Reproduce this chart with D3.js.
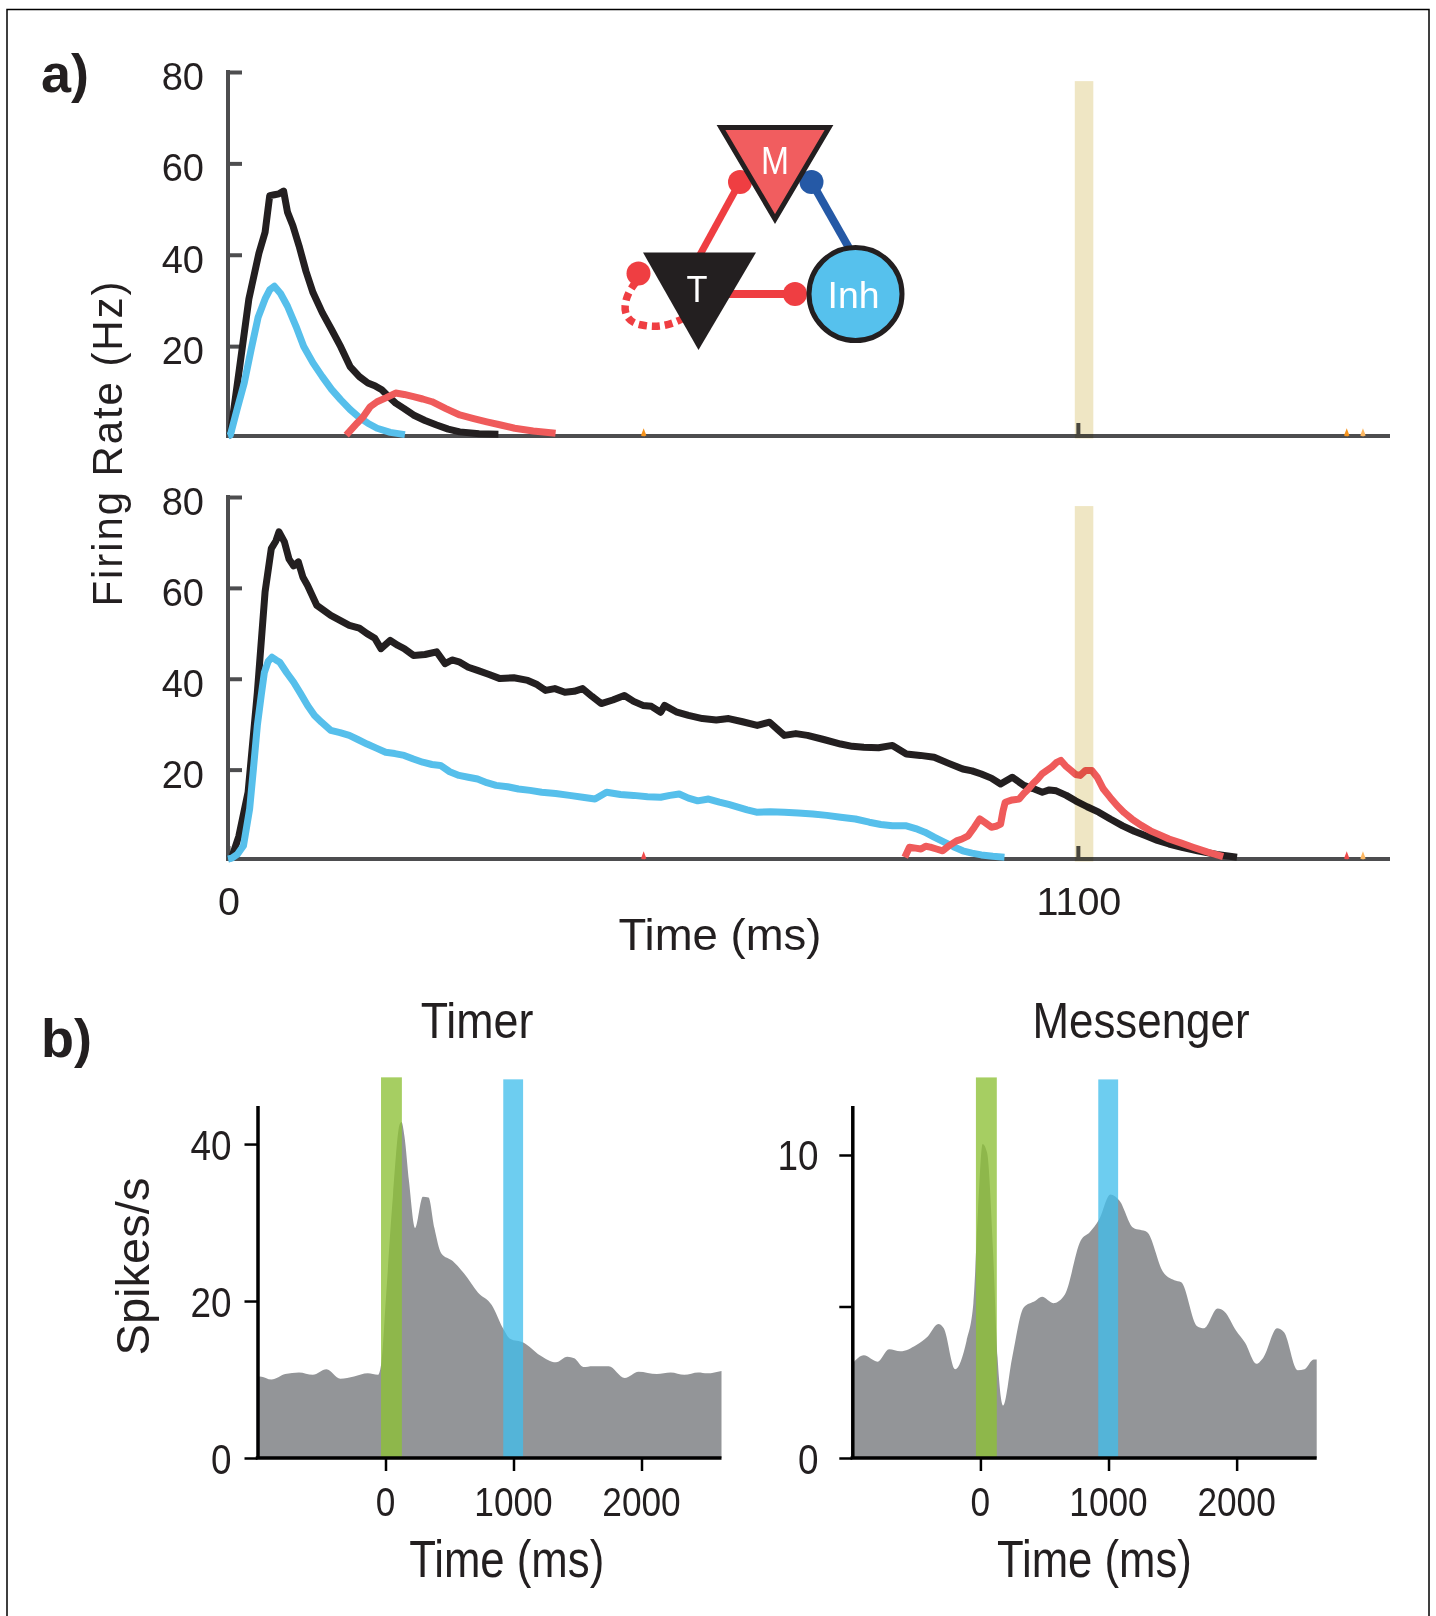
<!DOCTYPE html>
<html><head><meta charset="utf-8">
<script src="https://cdn.jsdelivr.net/npm/d3@7"></script>
<style>body{margin:0;background:#fff}svg{display:block}</style>
</head><body>
<svg id="c" width="1436" height="1616"></svg>
<script>
// ---------------- DATA ----------------
// Panel a, top (short trial): [time ms, rate Hz]
const topBlack = [[0,0],[3,0.3],[15,15],[27,30],[40,40],[48,44.6],[54,52.6],[60,52.8],[66,53],[72,53.6],[77,49],[84,46],[92,41.6],[101,36],[110,31.4],[122,27],[134,23.3],[146,19.5],[158,15.2],[170,13],[181,11.6],[190,11],[199,10.1],[208,8.6],[217,7.2],[228,6],[240,4.6],[255,3.4],[270,2.4],[285,1.5],[300,0.9],[325,0.5],[350,0.4]];
const topCyan = [[0,0],[3,0.2],[12,6],[21,11.6],[30,19],[39,26],[48,30],[54,32],[60,32.8],[68,31.2],[77,28.4],[88,24],[98,19.6],[110,16],[122,13],[134,10.2],[146,7.9],[158,5.8],[169,4.2],[181,2.8],[193,1.7],[210,0.8],[229,0.3]];
const topRed = [[153,0.2],[160,1.5],[167,2.8],[175,4.2],[184,6.4],[193,7.5],[205,8.4],[217,9.4],[228,9.1],[240,8.6],[252,8.1],[264,7.5],[282,6],[300,4.6],[318,3.8],[335,3.1],[353,2.4],[371,1.7],[395,1.1],[424,0.6]];
// Panel a, bottom (long trial)
const botBlack = [[0,0],[5,0.4],[14,5],[26,14.7],[38,36.7],[48,58.8],[56,68.3],[62,70],[66,72],[73,69.8],[79,66],[85,64.5],[91,65.4],[97,62],[103,60.2],[115,55.8],[133,53.6],[145,52.5],[157,51.4],[170,50.8],[180,49.6],[190,48.6],[198,46.3],[210,48.1],[220,47],[228,46.3],[240,44.8],[255,45],[270,45.6],[281,43],[290,43.8],[299,43.4],[311,42.2],[323,41.5],[338,40.6],[352,39.7],[370,39.9],[388,39.3],[400,38.4],[411,37.1],[423,37.5],[436,36.7],[448,36.9],[459,37.5],[471,35.8],[483,34.2],[498,35],[513,36],[525,34.7],[537,33.8],[548,33.6],[560,32.3],[565,33.8],[580,32.4],[596,31.6],[614,30.9],[632,30.6],[648,30.9],[666,30.2],[685,29.4],[701,30.1],[712,28.4],[720,27.2],[735,27.6],[750,27.2],[771,26.3],[793,25.3],[808,24.8],[823,24.6],[842,24.5],[860,25],[878,23.1],[896,22.8],[914,22.4],[932,21.1],[951,19.8],[963,19.4],[975,18.7],[988,17.8],[1000,16.5],[1015,18],[1030,16.2],[1042,15.5],[1054,14.7],[1063,15.2],[1072,15],[1085,14],[1097,12.8],[1112,11.5],[1127,10.3],[1142,8.8],[1158,7.3],[1173,6.1],[1188,5.1],[1203,4.1],[1218,3.3],[1236,2.5],[1255,1.8],[1280,1],[1306,0.4]];
const botCyan = [[0,0],[5,0.2],[12,1],[20,2.9],[28,11],[33,20],[38,29.4],[43,36],[47,41],[52,43.5],[57,44.4],[62,43.8],[67,43.3],[76,41],[85,38.9],[94,36.4],[103,33.8],[112,31.6],[121,30.1],[133,28.3],[145,27.8],[157,27.2],[168,26.3],[180,25.3],[192,24.4],[204,23.5],[216,23.2],[228,22.8],[240,22],[252,21.3],[264,20.8],[275,20.6],[287,19.2],[299,18.4],[311,18],[323,17.6],[335,16.8],[347,16.2],[362,15.9],[376,15.4],[391,15.1],[406,14.7],[424,14.4],[442,14],[459,13.6],[475,13.2],[490,14.7],[508,14.2],[525,14],[543,13.7],[560,13.6],[572,14],[584,14.3],[596,13.4],[608,12.8],[622,13.2],[636,12.5],[648,12],[660,11.4],[672,10.8],[684,10.3],[702,10.4],[720,10.3],[738,10.1],[757,9.9],[775,9.6],[793,9.2],[812,8.8],[830,8.1],[845,7.6],[860,7.3],[878,7.3],[890,6.7],[902,5.9],[914,4.8],[927,3.7],[939,2.7],[951,1.8],[963,1.3],[975,0.9],[990,0.6],[1005,0.4]];
const botRed = [[876,0.4],[882,2.6],[890,2.4],[897,2.2],[903,2.8],[909,2.6],[917,2.2],[925,1.8],[934,3],[943,4],[950,4.4],[958,5.1],[966,7],[973,8.8],[980,8],[988,7],[994,7.2],[1000,7.7],[1003,10.5],[1006,12.5],[1015,13],[1024,13.2],[1030,14.4],[1036,15.4],[1042,16.6],[1048,17.6],[1054,18.8],[1060,19.5],[1066,20.2],[1072,21.2],[1078,21.7],[1084,20.5],[1091,19.5],[1097,18.6],[1103,18.4],[1110,19.5],[1118,19.5],[1125,18],[1133,15.4],[1142,13.5],[1151,11.7],[1160,10.2],[1170,8.8],[1182,7.4],[1194,6.2],[1206,5.3],[1218,4.4],[1234,3.5],[1249,2.6],[1268,1.5],[1288,0.5]];
// tiny traces of other populations near zero: [time, colour]
const topBlips = [[538,'#F7941D'],[1448,'#F7941D'],[1469,'#FDB863']];
const botBlips = [[538,'#EF4B4B'],[1448,'#EF4B4B'],[1469,'#FDB863']];
const cueWindow = [1096,1120,78];           // tan shading: t0, t1, top (Hz)
const aYTicks = [20,40,60,80];
const aXTicks = [0,1100];
const aXTickLabels = ['0','1100'];

// Panel b: PSTHs [time ms, spikes/s]
const timerRate = [[-1000,10.4],[-980,10.4],[-891,10],[-783,10.7],[-676,10.9],[-568,10.6],[-461,11.3],[-353,10.1],[-246,10.4],[-138,10.8],[-59,10.6],[-31,12.3],[5,20.8],[59,33.6],[112,42.6],[125,42.8],[148,41],[184,35.2],[231,29.3],[292,33.3],[336,33.2],[382,29.3],[435,26.1],[525,25.1],[614,23.5],[722,21.1],[830,19.5],[919,16.5],[973,15.2],[1080,14.7],[1206,13.1],[1332,12.2],[1421,12.9],[1475,12.7],[1546,11.6],[1618,11.7],[1744,11.7],[1869,10.2],[1977,11],[2120,10.7],[2228,10.9],[2335,10.6],[2443,10.9],[2514,10.8],[2625,11.1]];
const messengerRate = [[-1000,3.11],[-910,3.39],[-803,3.18],[-713,3.59],[-625,3.52],[-500,3.73],[-411,4.01],[-329,4.42],[-286,4.28],[-197,2.93],[-108,3.87],[-55,5.11],[-19,8.15],[17,10.36],[52,10.08],[99,6.77],[134,3.32],[177,1.73],[248,3.32],[338,4.97],[427,5.18],[481,5.32],[569,5.11],[658,5.39],[783,7.18],[855,7.46],[926,7.87],[1015,8.7],[1086,8.49],[1193,7.6],[1300,7.46],[1425,6.15],[1514,5.87],[1568,5.8],[1692,4.35],[1746,4.28],[1852,4.93],[1906,4.83],[1995,4.21],[2066,3.8],[2155,3.11],[2209,3.32],[2316,4.28],[2370,4.15],[2476,2.9],[2530,2.93],[2601,3.25],[2625,3.25]];
const startCue = [-35,128];   // green shading (ms)
const endCue = [920,1075];    // blue shading (ms)
const bXTicks = [0,1000,2000];
const timerYTicks = [0,20,40];
const timerYLabels = ['0','20','40'];
const messengerYTicks = [0,5,10];
const messengerYLabels = ['0','','10'];

// ---------------- DRAW ----------------
const svg = d3.select('#c');
const FONT = "'Liberation Sans', Arial, Helvetica, sans-serif";

function txt(x, y, s, o = {}) {
  const t = svg.append('text')
    .attr('x', x).attr('y', y).text(s)
    .attr('font-family', FONT)
    .attr('font-size', o.size || 38)
    .attr('font-weight', o.weight || 'normal')
    .attr('fill', o.fill || '#231F20')
    .attr('text-anchor', o.anchor || 'start');
  if (o.len) t.attr('textLength', o.len).attr('lengthAdjust', o.adjust || 'spacingAndGlyphs');
  if (o.rotate) t.attr('transform', `rotate(${o.rotate},${x},${y})`);
  return t;
}

// frame
svg.append('rect').attr('x', 7).attr('y', 9.5).attr('width', 1422).attr('height', 1630)
  .attr('fill', 'none').attr('stroke', '#000').attr('stroke-width', 1.5);

// panel labels
txt(41, 92, 'a)', {size: 54, weight: 'bold'});
txt(41, 1057, 'b)', {size: 54, weight: 'bold'});

// ---- panel a ----
const xA = d3.scaleLinear().domain([0, 1504]).range([228, 1390]);
const yTop = d3.scaleLinear().domain([0, 80]).range([437.5, 72]);
const yBot = d3.scaleLinear().domain([0, 80]).range([860.5, 497]);
const AXC = '#4D4D4F';

function panelA(y, black, cyan, red, blips, showXLabels) {
  const g = svg.append('g');
  // y axis (ticks inward)
  const ya = g.append('g').attr('transform', `translate(${xA(0)},0)`)
    .call(d3.axisLeft(y).tickValues(aYTicks).tickSize(-14).tickSizeOuter(0).tickFormat(''));
  // x axis (ticks inward)
  const xa = g.append('g').attr('transform', `translate(0,${y(0) - 1.5})`)
    .call(d3.axisBottom(xA).tickValues(aXTicks).tickSize(-13).tickSizeOuter(0).tickFormat(''));
  [ya, xa].forEach(a => {
    a.select('.domain').attr('stroke', AXC).attr('stroke-width', 4);
    a.selectAll('.tick line').attr('stroke', AXC).attr('stroke-width', 4);
  });
  ya.select('.domain').attr('d', `M0,${y(0) + 0.5}V${y(80) - 2}`);
  xa.select('.domain').attr('d', `M${xA(0) - 2},0H${xA(1504)}`);
  // y tick labels
  aYTicks.forEach(v => txt(xA(0) - 24, y(v) + 18, String(v), {size: 38, anchor: 'end'}));
  if (showXLabels) {
    aXTicks.forEach((v, i) => txt(xA(v) + 1, 915, aXTickLabels[i], {size: 39.5, anchor: 'middle'}));
  }
  const line = d3.line().x(d => xA(d[0])).y(d => y(d[1]) - 1.5).curve(d3.curveLinear);
  [[black, '#231F20'], [cyan, '#56BFEB'], [red, '#EF5B5B']].forEach(([d, c]) => {
    g.append('path').attr('d', line(d)).attr('fill', 'none').attr('stroke', c)
      .attr('stroke-width', 7).attr('stroke-linejoin', 'round').attr('stroke-linecap', 'butt');
  });
  blips.forEach(([t, c]) => {
    g.append('path').attr('d', line([[t - 2, 0], [t, 0.9], [t + 2, 0]]))
      .attr('fill', c).attr('stroke', c).attr('stroke-width', 2.5);
  });
  // cue window (multiplied over the traces)
  g.append('rect')
    .attr('x', xA(cueWindow[0])).attr('width', xA(cueWindow[1]) - xA(cueWindow[0]))
    .attr('y', y(cueWindow[2])).attr('height', y(0) + 1 - y(cueWindow[2]))
    .attr('fill', '#EFE6C4').style('mix-blend-mode', 'multiply');
}
panelA(yTop, topBlack, topCyan, topRed, topBlips, false);
panelA(yBot, botBlack, botCyan, botRed, botBlips, true);

txt(122, 444, 'Firing Rate (Hz)', {size: 42, anchor: 'middle', rotate: -90, len: 325, adjust: 'spacing'});
txt(720, 950, 'Time (ms)', {size: 45, anchor: 'middle', len: 203});

// network diagram
(function () {
  const g = svg.append('g');
  const RED = '#EF3E42', BLUE = '#2559A6', DARK = '#231F20';
  const seg = (x1, y1, x2, y2, c, w) => g.append('line').attr('x1', x1).attr('y1', y1)
    .attr('x2', x2).attr('y2', y2).attr('stroke', c).attr('stroke-width', w);
  seg(740, 182, 696, 262, RED, 7);
  seg(811.5, 182, 857, 262, BLUE, 8);
  seg(712, 294, 795, 294, RED, 8);
  g.append('path').attr('d', 'M636,282 C621,300 620,322 642,325 C656,328 668,326 682,319')
    .attr('fill', 'none').attr('stroke', RED).attr('stroke-width', 7.5).attr('stroke-dasharray', '8,5');
  [[740, 182, RED], [811.5, 182, BLUE], [795, 294, RED], [638.5, 273.5, RED]].forEach(([x, y, c]) =>
    g.append('circle').attr('cx', x).attr('cy', y).attr('r', 12).attr('fill', c));
  g.append('polygon').attr('points', '721,127.5 829,127.5 775,219')
    .attr('fill', '#F15D5F').attr('stroke', DARK).attr('stroke-width', 5);
  g.append('polygon').attr('points', '643,252.5 756,252.5 698.5,350').attr('fill', DARK);
  g.append('circle').attr('cx', 855.5).attr('cy', 294).attr('r', 46.5)
    .attr('fill', '#56C1ED').attr('stroke', DARK).attr('stroke-width', 5);
  const lab = (x, y, s, sz, len) => g.append('text').attr('x', x).attr('y', y).text(s)
    .attr('font-family', FONT).attr('font-size', sz).attr('fill', '#fff')
    .attr('text-anchor', 'middle').attr('textLength', len).attr('lengthAdjust', 'spacingAndGlyphs');
  lab(775, 174, 'M', 38, 28);
  lab(697, 301.5, 'T', 37, 21);
  lab(853.5, 307.5, 'Inh', 36, 52);
})();

// ---- panel b ----
function psth(opt) {
  const x = d3.scaleLinear().domain([-1000, 2625]).range(opt.xr);
  const y = d3.scaleLinear().domain([0, opt.ymax]).range([1458, 1105.6]);
  const g = svg.append('g');
  const area = d3.area().x(d => x(d[0])).y0(y(0)).y1(d => y(d[1])).curve(d3.curveMonotoneX);
  g.append('path').attr('d', area(opt.data)).attr('fill', '#939598');
  g.append('rect').attr('x', x(startCue[0])).attr('width', x(startCue[1]) - x(startCue[0]))
    .attr('y', y(opt.barTop)).attr('height', y(0) - y(opt.barTop))
    .attr('fill', '#8DC036').attr('fill-opacity', 0.78);
  g.append('rect').attr('x', x(endCue[0])).attr('width', x(endCue[1]) - x(endCue[0]))
    .attr('y', y(opt.barTop) + 2).attr('height', y(0) - y(opt.barTop) - 2)
    .attr('fill', '#41BEEB').attr('fill-opacity', 0.77);
  const ya = g.append('g').attr('transform', `translate(${x(-1000)},0)`)
    .call(d3.axisLeft(y).tickValues(opt.yTicks).tickSize(13).tickSizeOuter(0).tickFormat(''));
  const xa = g.append('g').attr('transform', `translate(0,${y(0)})`)
    .call(d3.axisBottom(x).tickValues(bXTicks).tickSize(13).tickSizeOuter(0).tickFormat(''));
  [ya, xa].forEach(a => {
    a.select('.domain').attr('stroke', '#000').attr('stroke-width', 3.5);
    a.selectAll('.tick line').attr('stroke', '#000').attr('stroke-width', 2.5);
  });
  xa.select('.domain').attr('d', `M${x(-1000) - 1.75},0H${x(2625)}`);
  opt.yTicks.forEach((v, i) => {
    const s = opt.yLabels[i];
    if (s) txt(x(-1000) - opt.labPad, y(v) + 15.5, s, {size: 43, anchor: 'end', len: s.length * 20.5});
  });
  bXTicks.forEach(v => {
    const s = String(v);
    txt(x(v), 1516, s, {size: 41, anchor: 'middle', len: s.length * 19.6});
  });
  txt(opt.titleX, 1038, opt.title, {size: 50, anchor: 'middle', len: opt.titleLen});
  txt(opt.xlabX, 1577, 'Time (ms)', {size: 52, anchor: 'middle', len: 195});
}
psth({xr: [257.5, 721.5], ymax: 44.9, data: timerRate, barTop: 48.5,
  yTicks: timerYTicks, yLabels: timerYLabels, labPad: 26,
  title: 'Timer', titleX: 477, titleLen: 112.7, xlabX: 506.7});
psth({xr: [852.3, 1316.7], ymax: 11.63, data: messengerRate, barTop: 12.56,
  yTicks: messengerYTicks, yLabels: messengerYLabels, labPad: 33.8,
  title: 'Messenger', titleX: 1141, titleLen: 217, xlabX: 1094.4});

txt(149, 1266.5, 'Spikes/s', {size: 47, anchor: 'middle', rotate: -90, len: 178});
</script>
</body></html>
